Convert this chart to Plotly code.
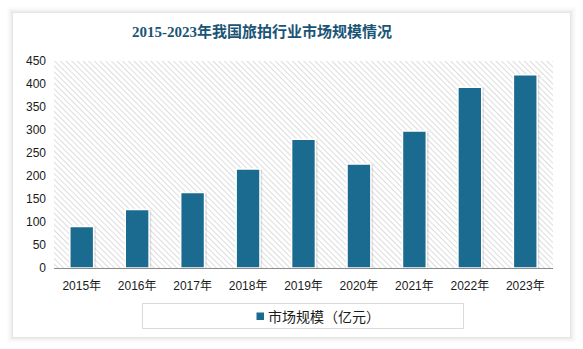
import base64
import plotly.graph_objects as go

# Market size of the travel-photography industry, 2015-2023 (100 million yuan)
years = ["2015年", "2016年", "2017年", "2018年", "2019年", "2020年", "2021年", "2022年", "2023年"]
market_size = [90, 127, 164, 215, 280, 226, 298, 393, 420]
y_ticks = [0, 50, 100, 150, 200, 250, 300, 350, 400, 450]

series_name = "市场规模（亿元）"
title_text = "2015-2023年我国旅拍行业市场规模情况"

W, H = 583, 349
M_L, M_R, M_T, M_B = 54, 30, 61, 81
PW, PH = W - M_L - M_R, H - M_T - M_B

BAR = "#1b6a8f"
TEXT_FONT = "Liberation Sans, Noto Sans CJK SC, sans-serif"


def px_x(px):
    return (px - M_L) / PW


def px_y(py):
    return (H - M_B - py) / PH


# diagonal hatch texture for the plotting area
svg = (
    f"<svg xmlns='http://www.w3.org/2000/svg' width='{PW}' height='{PH}'>"
    "<defs><pattern id='h' width='4' height='4' patternUnits='userSpaceOnUse' "
    "patternTransform='rotate(-45)'>"
    "<line x1='0' y1='0' x2='0' y2='4' stroke='#cfcfcf' stroke-width='1.4'/>"
    "</pattern></defs>"
    f"<rect width='{PW}' height='{PH}' fill='white'/>"
    f"<rect width='{PW}' height='{PH}' fill='url(#h)'/></svg>"
)
hatch_src = "data:image/svg+xml;base64," + base64.b64encode(svg.encode()).decode()

fig = go.Figure()

# soft shadow under each bar
fig.add_trace(go.Bar(
    x=years, y=market_size, width=0.47, offset=-0.215,
    marker=dict(color="rgba(0,0,0,0.10)", line=dict(width=0)),
    showlegend=False, hoverinfo="skip",
))
fig.add_trace(go.Bar(
    x=years, y=market_size, name=series_name, width=0.43, offset=-0.215,
    marker=dict(color=BAR, line=dict(color="white", width=1.5)),
    showlegend=False,
))

shapes = []
# card drop shadow
for i, a in enumerate([0.10, 0.07, 0.05, 0.035, 0.02, 0.01]):
    shapes.append(dict(
        type="rect", xref="paper", yref="paper", layer="below",
        x0=px_x(13 - i - 0.5), x1=px_x(570 + i + 0.5),
        y0=px_y(337 + i + 0.5), y1=px_y(13 - i - 0.5),
        line=dict(color=f"rgba(0,0,0,{a})", width=1), fillcolor="rgba(0,0,0,0)",
    ))
# legend frame and swatch
shapes.append(dict(
    type="rect", xref="paper", yref="paper",
    x0=px_x(142.5), x1=px_x(463.5), y0=px_y(328.5), y1=px_y(303.5),
    line=dict(color="#d9d9d9", width=1), fillcolor="rgba(0,0,0,0)",
))
shapes.append(dict(
    type="rect", xref="paper", yref="paper",
    x0=px_x(256.5), x1=px_x(264), y0=px_y(320), y1=px_y(312.5),
    line=dict(width=0), fillcolor=BAR,
))

annotations = [dict(
    text=series_name, xref="paper", yref="paper",
    x=px_x(266), y=px_y(316), xanchor="left", yanchor="middle", showarrow=False,
    font=dict(family="Noto Sans CJK SC, sans-serif", size=14, color="#1a1a1a"),
)]

fig.update_layout(
    width=W, height=H,
    margin=dict(l=M_L, r=M_R, t=M_T, b=M_B),
    paper_bgcolor="white", plot_bgcolor="rgba(0,0,0,0)",
    barmode="overlay",
    title=dict(
        text=title_text, x=262 / W, xref="container", xanchor="center",
        y=1 - 32 / H, yref="container", yanchor="middle",
        font=dict(family="Liberation Serif, Noto Sans CJK SC, serif", size=15,
                  color="#1a5576", weight="bold"),
    ),
    xaxis=dict(
        showgrid=False, showline=True, linecolor="#8c8c8c", linewidth=1,
        ticks="", ticklabelstandoff=7,
        tickfont=dict(family=TEXT_FONT, size=12, color="#1a1a1a"),
        fixedrange=True,
    ),
    yaxis=dict(
        range=[0, 450], tickvals=y_ticks, showgrid=False, zeroline=False,
        showline=False, ticks="", ticklabelstandoff=7,
        tickfont=dict(family=TEXT_FONT, size=12, color="#1a1a1a"),
        fixedrange=True,
    ),
    showlegend=False,
    images=[dict(
        source=hatch_src, xref="paper", yref="paper", x=0, y=1,
        sizex=1, sizey=1, sizing="stretch", layer="below",
    )],
    shapes=shapes,
    annotations=annotations,
)

fig.write_html("out.html")
